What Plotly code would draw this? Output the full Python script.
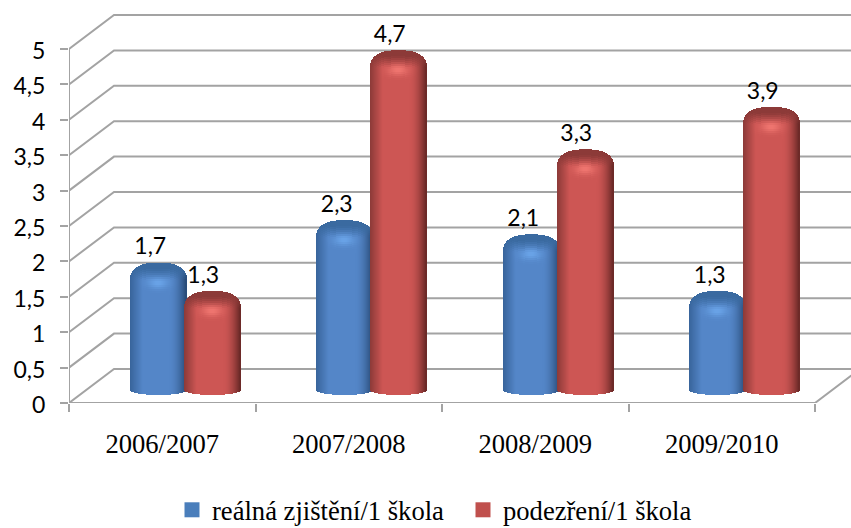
import math
import plotly.graph_objects as go

categories = ["2006/2007", "2007/2008", "2008/2009", "2009/2010"]
real_values = [1.7, 2.3, 2.1, 1.3]
suspected_values = [1.3, 4.7, 3.3, 3.9]
real_labels = ["1,7", "2,3", "2,1", "1,3"]
suspected_labels = ["1,3", "4,7", "3,3", "3,9"]
series_names = ["reálná zjištění/1 škola", "podezření/1 škola"]
y_ticks = [0, 0.5, 1, 1.5, 2, 2.5, 3, 3.5, 4, 4.5, 5]
y_tick_text = ["0", "0,5", "1", "1,5", "2", "2,5", "3", "3,5", "4", "4,5", "5"]

W, H = 851, 528
LEFT, BOTTOM = 69, 125
PX_X = 186.5          # pixels per category
PX_Y = 70.8           # pixels per value unit
GREY = "#a3a3a3"
SERIF = "Liberation Serif"
SANS = "Lato"

xpx = lambda p: p / PX_X
ypx = lambda p: p / PX_Y
DX, DY = xpx(45), ypx(34)
X_MAX = (W - LEFT) / PX_X
Y_MAX = (H - BOTTOM) / PX_Y


def mix(a, b, t):
    t = max(0.0, min(1.0, t))
    return tuple(a[i] + (b[i] - a[i]) * t for i in range(3))


def horiz_colour(u, pal):
    if u < 0:
        return mix(pal["left"], pal["mid"], min(1, (u + 1) / 0.45))
    return mix(pal["mid"], pal["right"], max(0, (u - 0.4) / 0.6) ** 1.8)


def cell_colour(u, d, pal):
    c = horiz_colour(u, pal)
    if d < 34:
        cap = mix(pal["cap"], c, (d - 5) / 11)
        glow = math.exp(-((u / 0.36) ** 2) - ((d - 19) / 5.5) ** 2)
        c = mix(cap, pal["glow"], glow)
    return "rgb(%d,%d,%d)" % c


def cylinders(values, offset_px, pal, name):
    xs, bases, heights, colours = [], [], [], []
    width_px = 56
    top_lift = ypx(20)
    for i, v in enumerate(values):
        centre = i + 0.5 + xpx(offset_px)
        for k in range(width_px):
            u = (k + 0.5) / width_px * 2 - 1
            x = centre + xpx(k + 0.5 - width_px / 2)
            edge = (1 - abs(u) ** 2.5) ** (1 / 2.5)
            arc_top = 18 * (1 - edge)
            bottom = ypx(13) - ypx(5 * math.sqrt(1 - u * u))
            top = v + top_lift
            d = arc_top
            step = 2
            while d < 34:
                nxt = min(34, d + step)
                xs.append(x)
                bases.append(top - ypx(nxt))
                heights.append(ypx(nxt - d))
                colours.append(cell_colour(u, d, pal))
                d = nxt
            xs.append(x)
            bases.append(bottom)
            heights.append(top - ypx(34) - bottom)
            colours.append(cell_colour(u, 40, pal))
    return go.Bar(x=xs, y=heights, base=bases, width=xpx(1.15),
                  marker=dict(color=colours, line=dict(width=0)),
                  showlegend=False, hoverinfo="skip", name=name)


BLUE = dict(left=(56, 100, 155), mid=(84, 134, 200), right=(40, 74, 118),
            cap=(58, 106, 160), glow=(106, 164, 232))
RED = dict(left=(140, 58, 56), mid=(205, 86, 84), right=(104, 40, 38),
           cap=(140, 58, 56), glow=(240, 118, 112))

fig = go.Figure()
fig.add_trace(cylinders(real_values, -4, BLUE, series_names[0]))
fig.add_trace(cylinders(suspected_values, 50, RED, series_names[1]))

fig.add_trace(go.Scatter(x=[0, 0], y=[0, 5], mode="lines", cliponaxis=False,
                         line=dict(color=GREY, width=2), showlegend=False, hoverinfo="skip"))
fig.add_trace(go.Scatter(x=[0, 4, 4 + DX], y=[0, 0, DY], mode="lines", cliponaxis=False,
                         line=dict(color=GREY, width=2), showlegend=False, hoverinfo="skip"))

lift = ypx(20) + ypx(14)
for vals, labels, off in ((real_values, real_labels, -12), (suspected_values, suspected_labels, 41)):
    fig.add_trace(go.Scatter(
        x=[i + 0.5 + xpx(off) for i in range(len(vals))],
        y=[v + lift for v in vals],
        text=labels, mode="text", textposition="middle center", cliponaxis=False,
        textfont=dict(family=SANS, size=23, color="#000000"),
        showlegend=False, hoverinfo="skip"))

for name, colour in zip(series_names, ("#4a7ebb", "#c0504d")):
    fig.add_trace(go.Scatter(x=[None], y=[None], mode="markers", name=name,
                             marker=dict(symbol="square", size=15, color=colour)))

shapes = []
for v in y_ticks:
    shapes.append(dict(type="path", xref="x", yref="y", layer="below",
                       path=f"M 0 {v} L {DX} {v + DY} L {X_MAX + 0.1} {v + DY}",
                       line=dict(color=GREY, width=2)))

fig.update_layout(
    width=W, height=H, autosize=False,
    margin=dict(l=LEFT, r=0, t=0, b=BOTTOM),
    paper_bgcolor="white", plot_bgcolor="white",
    barmode="overlay", bargap=0, shapes=shapes,
    font=dict(family=SERIF, color="#000000"),
    xaxis=dict(range=[0, X_MAX], tickvals=[0.5, 1.5, 2.5, 3.5], ticktext=categories,
               ticks="", showgrid=False, zeroline=False, showline=False,
               ticklabelstandoff=22, tickfont=dict(family=SERIF, size=26.6, color="#000000"),
               minor=dict(tickvals=[0, 1, 2, 3, 4], ticks="outside", ticklen=8, tickwidth=2,
                          tickcolor=GREY, showgrid=False)),
    yaxis=dict(range=[0, Y_MAX], tickvals=y_ticks, ticktext=y_tick_text,
               ticks="outside", ticklen=8, tickwidth=2, tickcolor=GREY,
               ticklabelstandoff=10, ticklabelshift=2, showgrid=False, zeroline=False, showline=False,
               tickfont=dict(family=SANS, size=23, color="#000000")),
    legend=dict(orientation="h", x=172 / W, xanchor="left", y=1 - 486 / H, yanchor="top",
                yref="container", xref="container",
                font=dict(family=SERIF, size=26.6, color="#000000"),
                itemwidth=30, entrywidth=246, entrywidthmode="pixels",
                bgcolor="rgba(0,0,0,0)"),
)

fig.write_html("out.html", config=dict(displayModeBar=False),
               post_script="document.body.style.margin='0';document.documentElement.style.overflow='hidden';")
